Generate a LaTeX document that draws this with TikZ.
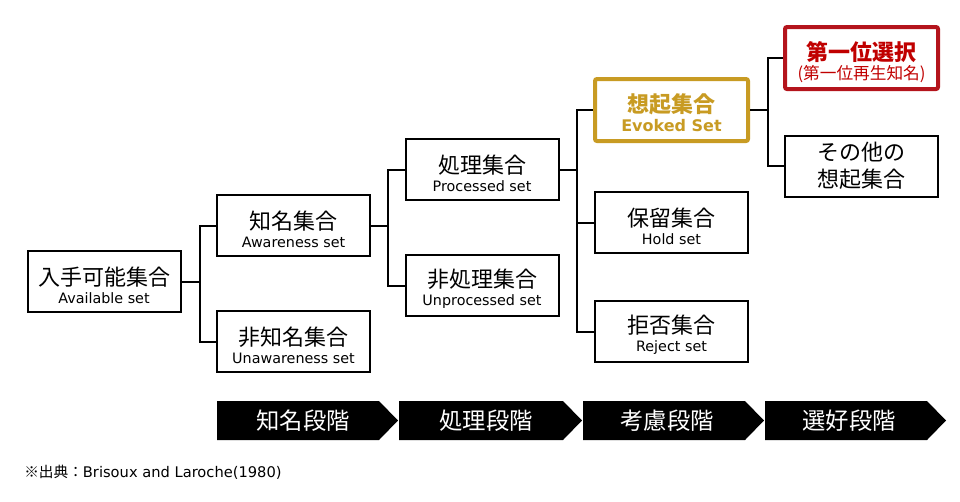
\documentclass[tikz,border=0pt]{standalone}
\usepackage{fontspec}
\setmainfont{DejaVu Sans}
\newfontfamily\jpf{Noto Sans CJK JP}
\newfontfamily\enf{DejaVu Sans}
\usetikzlibrary{calc}
\definecolor{goldc}{RGB}{200,155,35}
\definecolor{redc}{RGB}{192,0,0}
\definecolor{redb}{RGB}{180,20,28}
\lineskiplimit=-20pt\relax
\newcommand\jpt[1]{{\jpf\fontsize{16.5}{13.5}\selectfont\rule{0pt}{19pt}#1}}
\newcommand\ent[1]{{\enf\fontsize{10.75}{13.5}\selectfont #1}}
\begin{document}
\begin{tikzpicture}[x=0.75pt,y=-0.75pt,
  box/.style={draw, line width=1.5pt, minimum width=114.75pt, minimum height=45.75pt,
    inner sep=0pt, align=center, font=\fontsize{10.75}{13.5}\selectfont},
  hibox/.style={box, line width=3pt, rounded corners=1.5pt, minimum width=114.75pt, minimum height=46.5pt},
  conn/.style={line width=1.5pt},
  chev/.style={fill=black},
  stagetxt/.style={text=white, inner sep=0pt, font=\jpf\fontsize{17.5}{20}\selectfont},
  notetxt/.style={anchor=west, inner sep=0pt, font=\fontsize{11}{12}\selectfont}
]
\useasboundingbox (0,0) rectangle (960,501);

% boxes
\node[box] (avail) at (104,281.5) {\jpt{入手可能集合}\\\ent{Available set}};
\node[box] (aware) at (293.5,225.5) {\jpt{知名集合}\\\ent{Awareness set}};
\node[box] (unaware) at (293.5,341.5) {\jpt{非知名集合}\\\ent{Unawareness set}};
\node[box] (proc) at (482,169.5) {\jpt{処理集合}\\\ent{Processed set}};
\node[box] (unproc) at (482,285.5) {\jpt{非処理集合}\\\ent{Unprocessed set}};
\node[hibox, draw=goldc, text=goldc, font=\fontsize{12}{14}\selectfont] (evoked) at (671.5,110)
  {{\jpf\bfseries\fontsize{16.5}{14}\selectfont\rule{0pt}{18.5pt}想起集合}\\{\enf\bfseries\fontsize{12}{14}\selectfont Evoked Set}};
\node[box] (hold) at (671.5,222.5) {\jpt{保留集合}\\\ent{Hold set}};
\node[box] (reject) at (671.5,331.5) {\jpt{拒否集合}\\\ent{Reject set}};
\node[hibox, draw=redb, text=redc, font=\fontsize{12.5}{14}\selectfont] (first) at (861.5,58)
  {{\jpf\bfseries\fontsize{16.5}{14}\selectfont\rule{0pt}{20pt}第一位選択}\\{\jpf\fontsize{12.5}{14}\selectfont (第一位再生知名)}};
\node[box, font=\fontsize{16.5}{20}\selectfont] (other) at (861.5,166)
  {{\jpf\fontsize{16.5}{20}\selectfont その他の}\\{\jpf\fontsize{16.5}{20}\selectfont 想起集合}};

% connectors
\draw[conn] (avail.east) -- ++(18,0) coordinate (j1);
\draw[conn] (aware.west) -| (j1) |- (unaware.west);
\draw[conn] (aware.east) -- ++(17,0) coordinate (j2);
\draw[conn] (proc.west) -| (j2) |- (unproc.west);
\draw[conn] (proc.east) -- ++(17,0) coordinate (j3);
\draw[conn] (evoked.west) -| (j3) |- (reject.west);
\draw[conn] (hold.west) -- (hold.west -| j3);
\draw[conn] (evoked.east) -- ++(18,0) coordinate (j4);
\draw[conn] (first.west) -| (j4) |- (other.west);

% stage chevrons
\fill[chev] (217,401) -- (379,401) -- (398,420.5) -- (379,440) -- (217,440) -- cycle;
\fill[chev] (399,401) -- (563,401) -- (582,420.5) -- (563,440) -- (399,440) -- cycle;
\fill[chev] (583,401) -- (745,401) -- (764,420.5) -- (745,440) -- (583,440) -- cycle;
\fill[chev] (765,401) -- (927,401) -- (946,420.5) -- (927,440) -- (765,440) -- cycle;
\node[stagetxt] (s1) at (303,420.5) {知名段階};
\node[stagetxt] (s2) at (486,420.5) {処理段階};
\node[stagetxt] (s3) at (667,420.5) {考慮段階};
\node[stagetxt] (s4) at (849,420.5) {選好段階};

% footnote
\node[notetxt] (note) at (24,472) {{\jpf ※出典：}Brisoux and Laroche(1980)};
\end{tikzpicture}
\end{document}
